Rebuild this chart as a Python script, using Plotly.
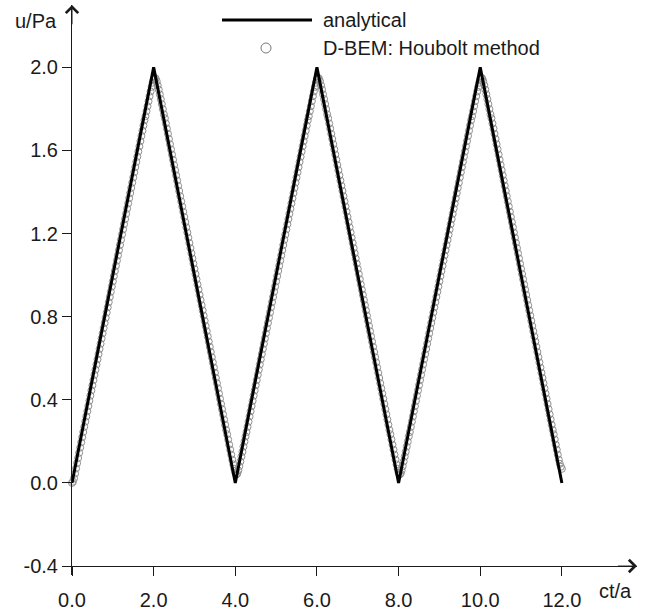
import plotly.graph_objects as go

# ---------------- data ----------------
# analytical solution (piecewise linear)
analytical_t = [0.0, 2.0, 4.0, 6.0, 8.0, 10.0, 12.0]
analytical_u = [0.0, 2.0, 0.0, 2.0, 0.0, 2.0, 0.0]

# D-BEM (Houbolt) samples, time step 0.025 in ct/a
houbolt_dt = 0.025
houbolt_u = [
    # 0.000 - 4.250
    0.000, 0.006, 0.022, 0.045, 0.070,
    0.095, 0.120, 0.145, 0.170, 0.195, 0.220, 0.245, 0.270, 0.295, 0.320,
    0.345, 0.370, 0.395, 0.420, 0.445, 0.470, 0.495, 0.520, 0.545, 0.570,
    0.595, 0.620, 0.645, 0.670, 0.695, 0.720, 0.745, 0.770, 0.795, 0.820,
    0.845, 0.870, 0.895, 0.920, 0.945, 0.970, 0.995, 1.020, 1.045, 1.070,
    1.095, 1.120, 1.145, 1.170, 1.195, 1.220, 1.245, 1.270, 1.295, 1.320,
    1.345, 1.370, 1.395, 1.420, 1.445, 1.470, 1.495, 1.520, 1.545, 1.570,
    1.595, 1.620, 1.645, 1.670, 1.695, 1.720, 1.745,
    1.765, 1.789, 1.813, 1.837, 1.861, 1.884, 1.906, 1.926, 1.942, 1.950,
    1.946, 1.933, 1.914, 1.893, 1.870, 1.847, 1.823, 1.799, 1.774,
    1.755, 1.730, 1.705, 1.680, 1.655, 1.630, 1.605, 1.580, 1.555, 1.530,
    1.505, 1.480, 1.455, 1.430, 1.405, 1.380, 1.355, 1.330, 1.305, 1.280,
    1.255, 1.230, 1.205, 1.180, 1.155, 1.130, 1.105, 1.080, 1.055, 1.030,
    1.005, 0.980, 0.955, 0.930, 0.905, 0.880, 0.855, 0.830, 0.805, 0.780,
    0.755, 0.730, 0.705, 0.680, 0.655, 0.630, 0.605, 0.580, 0.555, 0.530,
    0.505, 0.480, 0.455, 0.430, 0.405, 0.380, 0.355, 0.330, 0.305, 0.280,
    0.255,
    0.234, 0.209, 0.184, 0.160, 0.136, 0.112, 0.089, 0.068, 0.050, 0.040,
    0.045, 0.060, 0.081, 0.103, 0.127, 0.150, 0.175, 0.199, 0.224,
    # 4.275 - 8.250
    0.245, 0.270, 0.295, 0.320, 0.345, 0.370, 0.395, 0.420, 0.445, 0.470,
    0.495, 0.520, 0.545, 0.570, 0.595, 0.620, 0.645, 0.670, 0.695, 0.720,
    0.745, 0.770, 0.795, 0.820, 0.845, 0.870, 0.895, 0.920, 0.945, 0.970,
    0.995, 1.020, 1.045, 1.070, 1.095, 1.120, 1.145, 1.170, 1.195, 1.220,
    1.245, 1.270, 1.295, 1.320, 1.345, 1.370, 1.395, 1.420, 1.445, 1.470,
    1.495, 1.520, 1.545, 1.570, 1.595, 1.620, 1.645, 1.670, 1.695, 1.720,
    1.745,
    1.765, 1.789, 1.813, 1.837, 1.861, 1.884, 1.906, 1.926, 1.942, 1.950,
    1.946, 1.933, 1.914, 1.893, 1.870, 1.847, 1.823, 1.799, 1.774,
    1.755, 1.730, 1.705, 1.680, 1.655, 1.630, 1.605, 1.580, 1.555, 1.530,
    1.505, 1.480, 1.455, 1.430, 1.405, 1.380, 1.355, 1.330, 1.305, 1.280,
    1.255, 1.230, 1.205, 1.180, 1.155, 1.130, 1.105, 1.080, 1.055, 1.030,
    1.005, 0.980, 0.955, 0.930, 0.905, 0.880, 0.855, 0.830, 0.805, 0.780,
    0.755, 0.730, 0.705, 0.680, 0.655, 0.630, 0.605, 0.580, 0.555, 0.530,
    0.505, 0.480, 0.455, 0.430, 0.405, 0.380, 0.355, 0.330, 0.305, 0.280,
    0.255,
    0.234, 0.209, 0.184, 0.160, 0.136, 0.112, 0.089, 0.068, 0.050, 0.040,
    0.045, 0.060, 0.081, 0.103, 0.127, 0.150, 0.175, 0.199, 0.224,
    # 8.275 - 12.000
    0.245, 0.270, 0.295, 0.320, 0.345, 0.370, 0.395, 0.420, 0.445, 0.470,
    0.495, 0.520, 0.545, 0.570, 0.595, 0.620, 0.645, 0.670, 0.695, 0.720,
    0.745, 0.770, 0.795, 0.820, 0.845, 0.870, 0.895, 0.920, 0.945, 0.970,
    0.995, 1.020, 1.045, 1.070, 1.095, 1.120, 1.145, 1.170, 1.195, 1.220,
    1.245, 1.270, 1.295, 1.320, 1.345, 1.370, 1.395, 1.420, 1.445, 1.470,
    1.495, 1.520, 1.545, 1.570, 1.595, 1.620, 1.645, 1.670, 1.695, 1.720,
    1.745,
    1.765, 1.789, 1.813, 1.837, 1.861, 1.884, 1.906, 1.926, 1.942, 1.950,
    1.946, 1.933, 1.914, 1.893, 1.870, 1.847, 1.823, 1.799, 1.774,
    1.755, 1.730, 1.705, 1.680, 1.655, 1.630, 1.605, 1.580, 1.555, 1.530,
    1.505, 1.480, 1.455, 1.430, 1.405, 1.380, 1.355, 1.330, 1.305, 1.280,
    1.255, 1.230, 1.205, 1.180, 1.155, 1.130, 1.105, 1.080, 1.055, 1.030,
    1.005, 0.980, 0.955, 0.930, 0.905, 0.880, 0.855, 0.830, 0.805, 0.780,
    0.755, 0.730, 0.705, 0.680, 0.655, 0.630, 0.605, 0.580, 0.555, 0.530,
    0.505, 0.480, 0.455, 0.430, 0.405, 0.380, 0.355, 0.330, 0.305, 0.280,
    0.255,
    0.234, 0.209, 0.184, 0.160, 0.136, 0.112, 0.092, 0.078, 0.068,
]
assert len(houbolt_u) == 481, len(houbolt_u)
houbolt_t = [i * houbolt_dt for i in range(len(houbolt_u))]

x_ticks = [0, 2, 4, 6, 8, 10, 12]
y_ticks = [-0.4, 0.0, 0.4, 0.8, 1.2, 1.6, 2.0]

legend_names = ["analytical", "D-BEM: Houbolt method"]
x_title = "ct/a"
y_title = "u/Pa"

# ---------------- figure ----------------
FONT = "Arial, Liberation Sans, Helvetica, sans-serif"
FS = 20
TXT = "#1a1a1a"
W, H = 658, 615
ML, MR, MT, MB = 72, 21, 5, 40
X_RANGE = [0, 13.84]
Y_RANGE = [-0.443, 2.30]
pw, ph = W - ML - MR, H - MT - MB


def px(xp):
    return (xp - ML) / pw


def py(yp):
    return (H - MB - yp) / ph


fig = go.Figure()
fig.add_trace(go.Scatter(
    x=houbolt_t, y=houbolt_u, mode="markers", name=legend_names[1],
    marker=dict(symbol="circle-open", size=7, color="#8f8f8f",
                line=dict(width=1, color="#8f8f8f")),
    showlegend=False, cliponaxis=False,
))
fig.add_trace(go.Scatter(
    x=analytical_t, y=analytical_u, mode="lines", name=legend_names[0],
    line=dict(color="#000000", width=3), showlegend=False, cliponaxis=False,
))

x_axis_pos = (y_ticks[0] - Y_RANGE[0]) / (Y_RANGE[1] - Y_RANGE[0])

fig.update_layout(
    width=W, height=H,
    margin=dict(l=ML, r=MR, t=MT, b=MB, pad=0, autoexpand=False),
    paper_bgcolor="white", plot_bgcolor="white",
    font=dict(family=FONT, size=FS, color=TXT),
    xaxis=dict(range=X_RANGE, tickvals=x_ticks,
               ticktext=[f"{v:.1f}" for v in x_ticks],
               showgrid=False, zeroline=False, showline=True,
               linecolor=TXT, linewidth=1, ticks="outside", ticklen=9,
               tickwidth=1, tickcolor=TXT, anchor="free", position=x_axis_pos,
               automargin=False,
               ticklabelstandoff=7, tickfont=dict(size=FS, color=TXT)),
    yaxis=dict(range=Y_RANGE, tickvals=y_ticks,
               ticktext=[f"{v:.1f}" for v in y_ticks],
               showgrid=False, zeroline=False, showline=True,
               linecolor=TXT, linewidth=1, ticks="outside", ticklen=9,
               tickwidth=1, tickcolor=TXT, ticklabelstandoff=0,
               automargin=False,
               tickfont=dict(size=FS, color=TXT)),
)

# axis arrows
fig.add_annotation(x=0, y=Y_RANGE[1], ax=0, ay=Y_RANGE[1] - 0.1,
                   xref="x", yref="y", axref="x", ayref="y", text="",
                   showarrow=True, arrowhead=4, arrowsize=2.4, arrowwidth=1,
                   arrowcolor=TXT)
fig.add_annotation(x=X_RANGE[1], y=y_ticks[0], ax=X_RANGE[1] - 0.5,
                   ay=y_ticks[0], xref="x", yref="y", axref="x", ayref="y",
                   text="", showarrow=True, arrowhead=4, arrowsize=2.4,
                   arrowwidth=1, arrowcolor=TXT)

# axis titles
fig.add_annotation(x=px(36), y=py(21), xref="paper", yref="paper",
                   xanchor="center", yanchor="middle",
                   text=y_title, showarrow=False, font=dict(size=FS, color=TXT))
fig.add_annotation(x=px(615), y=py(591), xref="paper", yref="paper",
                   xanchor="center", yanchor="middle",
                   text=x_title, showarrow=False, font=dict(size=FS, color=TXT))

# legend (drawn manually)
fig.add_shape(type="line", xref="paper", yref="paper",
              x0=px(222), x1=px(312), y0=py(20), y1=py(20),
              line=dict(color="#000000", width=3))
fig.add_shape(type="circle", xref="paper", yref="paper",
              xsizemode="pixel", ysizemode="pixel",
              xanchor=px(266), yanchor=py(48), x0=-5, x1=5, y0=-5, y1=5,
              line=dict(color="#777777", width=1))
fig.add_annotation(x=px(321), y=py(20), xref="paper", yref="paper",
                   xanchor="left", yanchor="middle", text=legend_names[0],
                   showarrow=False, font=dict(size=FS, color=TXT))
fig.add_annotation(x=px(321), y=py(48), xref="paper", yref="paper",
                   xanchor="left", yanchor="middle", text=legend_names[1],
                   showarrow=False, font=dict(size=FS, color=TXT))

fig.write_html("out.html")
